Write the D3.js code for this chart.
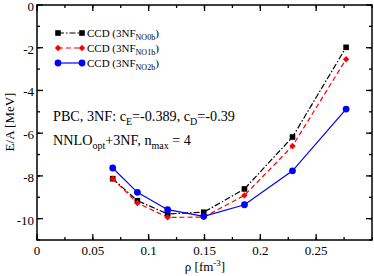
<!DOCTYPE html>
<html lang="en">
<head>
<meta charset="UTF-8">
<title>CCD E/A</title>
<script src="https://cdn.jsdelivr.net/npm/d3@7/dist/d3.min.js"></script>
<style>
  body{margin:0;background:#fff}
</style>
</head>
<body>
<div class="chart"></div>
<script>
    // densities (fm^-3)
    let rho=[0.0678,0.0899,0.117,0.1493,0.1858,0.2288,0.2768]
    let ccdNO0b=[-8.13,-9.16,-9.78,-9.7,-8.61,-6.18,-1.98]
    let ccdNO1b=[-8.13,-9.27,-9.94,-9.93,-8.91,-6.6,-2.54]
    let ccdNO2b=[-7.63,-8.77,-9.58,-9.89,-9.35,-7.76,-4.87]
    let xTicks=[0,0.05,0.1,0.15,0.2,0.25]
    let yTicks=[0,-2,-4,-6,-8,-10]
    let seriesNames=["NO0b","NO1b","NO2b"]

    let W=374,H=276
    let svg=d3.select('.chart').append('svg').attr('width',W).attr('height',H)
        .attr('font-family','Liberation Serif')
    let x=d3.scaleLinear().domain([0,0.3]).range([37,372])
    let y=d3.scaleLinear().domain([-11,0]).range([240,5])

    // minor ticks
    let xMinor=d3.range(0,0.3001,0.025)
    let yMinor=d3.range(-11,0.001,1)
    let ax=svg.append('g')
    function tickMarks(vals,len,isX,side){
        vals.forEach(v=>{
            if(isX){
                let px=x(v)
                ax.append('line').attr('x1',px).attr('x2',px)
                  .attr('y1',side?240:5).attr('y2',side?240-len:5+len)
                  .attr('stroke','#000').attr('stroke-width',1.3)
            }else{
                let py=y(v)
                ax.append('line').attr('y1',py).attr('y2',py)
                  .attr('x1',side?37:372).attr('x2',side?37+len:372-len)
                  .attr('stroke','#000').attr('stroke-width',1.3)
            }
        })
    }
    tickMarks(xMinor,3,true,true);tickMarks(xMinor,3,true,false)
    tickMarks(yMinor,3,false,true);tickMarks(yMinor,3,false,false)
    tickMarks(xTicks,6,true,true);tickMarks(xTicks,6,true,false)
    tickMarks(yTicks,6,false,true);tickMarks(yTicks,6,false,false)

    svg.append('rect').attr('x',37).attr('y',5).attr('width',335).attr('height',235)
       .attr('fill','none').attr('stroke','#000').attr('stroke-width',1.5)

    svg.append('g').selectAll('text').data(xTicks).join('text')
       .attr('x',d=>x(d)).attr('y',255).attr('text-anchor','middle')
       .attr('font-size',13).text(d=>d)
    svg.append('g').selectAll('text').data(yTicks).join('text')
       .attr('x',34).attr('y',d=>y(d)+6).attr('text-anchor','end')
       .attr('font-size',13).text(d=>d)

    // axis titles
    let xl=svg.append('text').attr('x',205).attr('y',271).attr('text-anchor','middle').attr('font-size',13)
    xl.append('tspan').text('ρ [fm')
    xl.append('tspan').attr('dy',-5).attr('font-size',9).text('-3')
    xl.append('tspan').attr('dy',5).text(']')
    svg.append('text').attr('transform','translate(14,122) rotate(-90)')
       .attr('text-anchor','middle').attr('font-size',13).text('E/A [MeV]')

    let series=[
        {name:seriesNames[0],vals:ccdNO0b,color:'#000',dash:'6,2,1.5,2',marker:'square'},
        {name:seriesNames[1],vals:ccdNO1b,color:'#f00',dash:'5,3',marker:'diamond'},
        {name:seriesNames[2],vals:ccdNO2b,color:'#00f',dash:null,marker:'circle'}
    ]
    let line=d3.line().x((d,i)=>x(rho[i])).y(d=>y(d))

    function marker(g,type,cx,cy,color){
        if(type==='square') g.append('rect').attr('x',cx-2.8).attr('y',cy-2.8).attr('width',5.6).attr('height',5.6).attr('fill',color)
        else if(type==='diamond') g.append('path').attr('d',`M${cx},${cy-3.2}L${cx+3.2},${cy}L${cx},${cy+3.2}L${cx-3.2},${cy}Z`).attr('fill',color)
        else g.append('circle').attr('cx',cx).attr('cy',cy).attr('r',3.4).attr('fill',color)
    }

    let plot=svg.append('g')
    series.forEach(s=>{
        plot.append('path').attr('d',line(s.vals)).attr('fill','none')
            .attr('stroke',s.color).attr('stroke-width',1.2)
            .attr('stroke-dasharray',s.dash)
        s.vals.forEach((v,i)=>marker(plot,s.marker,x(rho[i]),y(v),s.color))
    })

    // legend
    let lg=svg.append('g')
    series.forEach((s,i)=>{
        let ly=33+i*15
        lg.append('line').attr('x1',58).attr('x2',82).attr('y1',ly).attr('y2',ly)
          .attr('stroke',s.color).attr('stroke-width',1.2).attr('stroke-dasharray',s.dash)
        marker(lg,s.marker,58,ly,s.color)
        marker(lg,s.marker,82,ly,s.color)
        let t=lg.append('text').attr('x',87).attr('y',ly+4).attr('font-size',11)
        t.append('tspan').text('CCD (3NF')
        t.append('tspan').attr('dy',3).attr('font-size',8).text(s.name)
        t.append('tspan').attr('dy',-3).text(')')
    })

    // annotation
    let a1=svg.append('text').attr('x',53).attr('y',121).attr('font-size',14.2)
    a1.append('tspan').text('PBC, 3NF: c')
    a1.append('tspan').attr('dy',4).attr('font-size',10).text('E')
    a1.append('tspan').attr('dy',-4).text('=-0.389, c')
    a1.append('tspan').attr('dy',4).attr('font-size',10).text('D')
    a1.append('tspan').attr('dy',-4).text('=-0.39')
    let a2=svg.append('text').attr('x',53).attr('y',145).attr('font-size',14.2)
    a2.append('tspan').text('NNLO')
    a2.append('tspan').attr('dy',4).attr('font-size',10).text('opt')
    a2.append('tspan').attr('dy',-4).text('+3NF, n')
    a2.append('tspan').attr('dy',4).attr('font-size',10).text('max')
    a2.append('tspan').attr('dy',-4).text(' = 4')
</script>
</body>
</html>
